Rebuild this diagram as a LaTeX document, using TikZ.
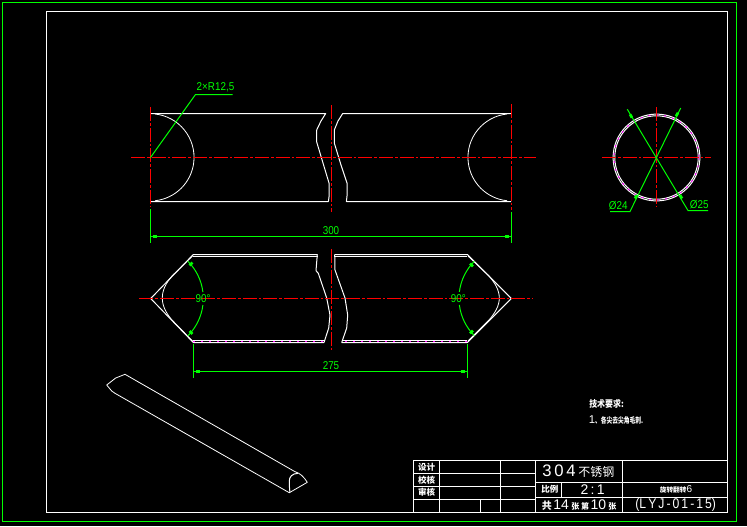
\documentclass[tikz,border=0pt]{standalone}
\usepackage{fontspec}
\setmainfont{Liberation Sans}
\newfontfamily\cjk{Noto Sans CJK SC}
\definecolor{cadgreen}{RGB}{0,255,0}
\definecolor{cadred}{RGB}{255,0,0}
\definecolor{cadpink}{RGB}{255,0,255}
\newcommand{\cadtxt}[1]{\scalebox{0.87}[1]{#1}}
\tikzset{
  x=0.75pt,y=-0.75pt,
  outline/.style={draw=white,line width=0.75pt,line join=round},
  thinline/.style={draw=white,line width=0.6pt,line join=round},
  frame/.style={draw=white,line width=0.75pt},
  centre/.style={draw=cadred,line width=0.75pt,dash pattern=on 10.5pt off 1.5pt on 2pt off 1.5pt},
  dimline/.style={draw=cadgreen,line width=0.75pt},
  tick/.style={fill=cadgreen,draw=none,minimum width=3pt,minimum height=2pt,inner sep=0pt,outer sep=0pt},
  dimtext/.style={text=cadgreen,font=\fontsize{8.5}{8.5}\selectfont,inner sep=0pt},
  blocktext/.style={text=white,font=\cjk\bfseries\fontsize{6.4}{6.4}\selectfont,inner sep=0pt},
  wide/.style={text=white,font=\fontsize{10.5}{10.5}\selectfont,inner sep=0pt},
  dots/.style={draw=cadpink,line width=0.75pt,dash pattern=on 1.5pt off 4.5pt}
}
\begin{document}
\begin{tikzpicture}
\useasboundingbox (0,0) rectangle (747,526);
\fill[black] (0,0) rectangle (747,526);
% frames
\draw[draw=cadgreen,line width=0.75pt] (2.5,2.5) rectangle (736.5,521.5);
\draw[frame] (46.5,11.5) rectangle (727.5,512.5);
% title block
\draw[frame] (413.5,512.5) -- (413.5,460.5) -- (727.5,460.5);
\draw[frame] (413.5,473.5) -- (535.5,473.5);
\draw[frame] (413.5,486.5) -- (535.5,486.5);
\draw[frame] (413.5,499.5) -- (535.5,499.5);
\draw[frame] (439.5,460.5) -- (439.5,512.5);
\draw[frame] (480.5,499.5) -- (480.5,512.5);
\draw[frame] (500.5,460.5) -- (500.5,512.5);
\draw[frame] (535.5,460.5) -- (535.5,512.5);
\draw[frame] (535.5,482.5) -- (727.5,482.5);
\draw[frame] (535.5,497.5) -- (727.5,497.5);
\draw[frame] (561.5,482.5) -- (561.5,497.5);
\draw[frame] (622.5,460.5) -- (622.5,512.5);
\node[blocktext] (t1) at (426.7,467) {设计};
\node[blocktext] (t2) at (426.7,480) {校核};
\node[blocktext] (t3) at (426.7,492.5) {审核};
\node[wide,anchor=west] (t4) at (542,471) {\fontsize{12.5}{12.5}\selectfont 3\,0\,4\,\cjk\fontsize{9}{9}\selectfont 不锈钢};
\node[blocktext,anchor=west] (t5) at (541,489.5) {比例};
\node[wide] (t6) at (592.7,489.5) {2\,:\,1};
\node[wide,anchor=west] (t7) at (541.5,505) {\cjk\bfseries\fontsize{7.5}{7.5}\selectfont 共\,\normalfont\fontsize{10.5}{10.5}\selectfont 14\,\cjk\bfseries\fontsize{6}{6}\selectfont 张 第\,\normalfont\fontsize{10.5}{10.5}\selectfont 10\,\cjk\bfseries\fontsize{6}{6}\selectfont 张};
\node[blocktext] (t8) at (676,489) {\fontsize{5}{5}\selectfont 旋转翻转\normalfont\fontsize{7.5}{7.5}\selectfont 6};
\node[wide] (t9) at (675.7,505) {\scalebox{0.87}[1]{(L\,Y\,J\,-\,0\,1\,-\,1\,5)}};
% technical notes
\node[blocktext,anchor=west] (n1) at (589,404) {\scalebox{0.93}[1.1]{技术要求:}};
\node[blocktext,anchor=west] (n2) at (588.5,420) {\normalfont\fontsize{8.5}{8.5}\selectfont 1\cjk\bfseries\fontsize{6}{6}\selectfont \scalebox{0.72}[1]{、各尖去尖角毛刺.}};
% top view
\draw[outline] (150.5,113.5) -- (325.7,113.5) -- (321,121) -- (316.7,130) -- (316.7,142) -- (323,163) -- (329,183) -- (329,197) -- (328.4,201.5) -- (150.5,201.5);
\draw[outline] (511,113.5) -- (342.7,113.5) -- (338,121) -- (334.3,130) -- (334.3,143) -- (341,165) -- (347,183) -- (347,196) -- (346.4,201.5) -- (511,201.5);
\draw[thinline] (155,114) arc[start angle=-84,end angle=84,radius=43.6];
\draw[thinline] (507,114) arc[start angle=264,end angle=96,radius=43.6];
\draw[centre] (131,157.5) -- (536,157.5);
\draw[centre] (150.5,107) -- (150.5,207);
\draw[centre] (511.5,104) -- (511.5,210);
\draw[centre] (331.5,105) -- (331.5,212);
% R12,5 leader
\coordinate (rc) at (150.5,157.5);
\coordinate (re) at (195.5,94.5);
\coordinate (rf) at (232.7,94.5);
\draw[dimline] (rc) -- (re) -- (rf);
\node[dimtext] (rt) at (215.5,87.7) {\cadtxt{2×R12,5}};
% dim 300
\coordinate (a1) at (150.5,209);
\coordinate (a2) at (150.5,243);
\coordinate (b1) at (511.5,211.7);
\coordinate (b2) at (511.5,242.7);
\coordinate (a3) at (150.5,236.5);
\coordinate (b3) at (511.5,236.5);
\draw[dimline] (a1) -- (a2);
\draw[dimline] (b1) -- (b2);
\draw[dimline] (a3) -- (b3);
\node[tick] (ta) at (155,236.5) {};
\node[tick] (tb) at (507,236.5) {};
\node[dimtext] (dt300) at (331,230.7) {\cadtxt{300}};
% circle view
\draw[outline] (656.5,157.5) circle[radius=43.4];
\draw[outline] (656.5,157.5) circle[radius=41.7];
\draw[dots] (656.5,157.5) circle[radius=42.5];
\draw[centre] (602,157.5) -- (710.7,157.5);
\draw[centre] (656.5,107.3) -- (656.5,207.3);
\coordinate (c1) at (627.3,109.3);
\coordinate (c2) at (688,210.5);
\coordinate (c3) at (708,210.5);
\coordinate (d1) at (680.7,108);
\coordinate (d2) at (630,211.5);
\coordinate (d3) at (610,211.5);
\draw[dimline] (c1) -- (c2) -- (c3);
\draw[dimline] (d1) -- (d2) -- (d3);
\node[tick,rotate=-60] (m1) at (631,116) {};
\node[tick,rotate=60] (m2) at (677,114.5) {};
\node[tick,rotate=60] (m3) at (636,196.7) {};
\node[tick,rotate=-60] (m4) at (681,196.7) {};
\node[dimtext] (dt24) at (618.3,205.3) {\cadtxt{Ø24}};
\node[dimtext] (dt25) at (699.3,204.7) {\cadtxt{Ø25}};
% front view, left part
\draw[outline] (317.7,254.5) -- (193.3,254.5) -- (150.7,298.5) -- (193.3,342.5) -- (324,342.5);
\draw[outline] (317.7,256.5) -- (193.3,256.5);
\draw[outline] (193.3,340.5) -- (324,340.5);
\draw[thinline] (192.5,256) -- (172,276) .. controls (166,283) and (162.3,290) .. (162.3,298) .. controls (162.3,306) and (166,313) .. (172,320) -- (192.5,341);
\draw[outline] (317.3,254.5) -- (316,270.7) -- (318.3,273.3) -- (326.7,298) -- (330,315) -- (328.7,328) -- (324,342.5);
% front view, right part
\draw[outline] (334.7,254.5) -- (467.3,254.5) -- (511.3,298.5) -- (467.3,342.5) -- (341.7,342.5);
\draw[outline] (334.7,256.5) -- (467.3,256.5);
\draw[outline] (342,340.5) -- (467.3,340.5);
\draw[thinline] (468,256) -- (489,276) .. controls (495,283) and (499.3,290) .. (499.3,298) .. controls (499.3,306) and (495,313) .. (489,320) -- (468,341);
\draw[outline] (334.7,254.5) -- (335,270) -- (345,298) -- (347.7,315) -- (346.7,328) -- (341.7,342.5);
\draw[dots] (193.3,341.5) -- (324,341.5);
\draw[dots] (345,341.5) -- (467.3,341.5);
\draw[centre] (139.3,298.5) -- (532.7,298.5);
\draw[centre] (331.5,249) -- (331.5,350.7);
% 90 degree arcs
\draw[dimline] (187.9,261.3) arc[start angle=-45,end angle=-7,radius=52.6];
\draw[dimline] (202.9,305) arc[start angle=7,end angle=45,radius=52.6];
\draw[dimline] (474.3,261.3) arc[start angle=225,end angle=187,radius=52.3];
\draw[dimline] (459.4,305) arc[start angle=173,end angle=135,radius=52.3];
\node[tick,rotate=45] (h1) at (191,264) {};
\node[tick,rotate=-45] (h2) at (191,332.5) {};
\node[tick,rotate=-45] (h3) at (471.5,265) {};
\node[tick,rotate=45] (h4) at (471.5,332) {};
\node[dimtext] (dt90a) at (203,298.3) {\cadtxt{90°}};
\node[dimtext] (dt90b) at (458.3,298.3) {\cadtxt{90°}};
% dim 275
\coordinate (e1) at (193.5,344);
\coordinate (e2) at (193.5,377.7);
\coordinate (f1) at (467.5,344);
\coordinate (f2) at (467.5,377.7);
\coordinate (e3) at (193.5,371.5);
\coordinate (f3) at (467.5,371.5);
\draw[dimline] (e1) -- (e2);
\draw[dimline] (f1) -- (f2);
\draw[dimline] (e3) -- (f3);
\node[tick] (te) at (198,371.5) {};
\node[tick] (tf) at (463,371.5) {};
\node[dimtext] (dt275) at (331,365.3) {\cadtxt{275}};
% isometric view
\draw[thinline] (295,471.7) -- (125,374.3) -- (115.7,378) -- (106.7,385) -- (111.7,391) -- (115,393.3) -- (289.3,492.7) -- (307.3,482.3) .. controls (304,477) and (300,473) .. (295,471.7);
\draw[outline] (298,473.3) .. controls (292,473.5) and (289.3,477) .. (289.3,481) .. controls (289.3,486) and (289.6,490) .. (290,492.3);
\end{tikzpicture}
\end{document}
